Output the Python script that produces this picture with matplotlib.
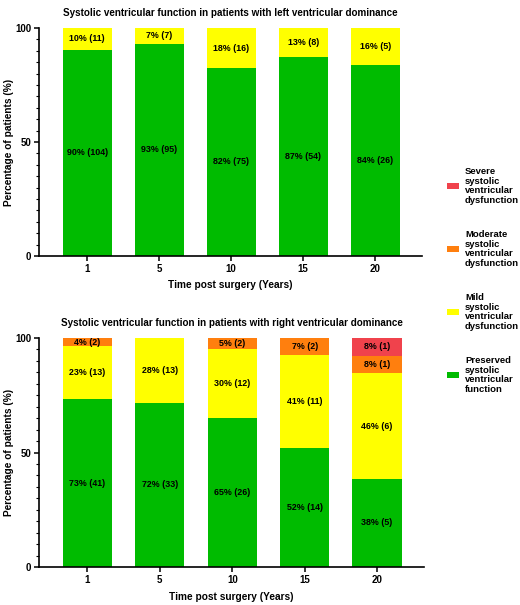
import matplotlib
matplotlib.use("Agg")
import matplotlib.pyplot as plt
from matplotlib.patches import Rectangle
from matplotlib.ticker import MultipleLocator
import numpy as np

plt.rcParams['font.family'] = ['Liberation Sans', 'DejaVu Sans']
plt.rcParams['font.weight'] = 'bold'

years = ["1", "5", "10", "15", "20"]
categories = ["Preserved\nsystolic\nventricular\nfunction",
              "Mild\nsystolic\nventricular\ndysfunction",
              "Moderate\nsystolic\nventricular\ndysfunction",
              "Severe\nsystolic\nventricular\ndysfunction"]
colors = ["#00BB00", "#FFFF00", "#FF7F0E", "#F0424C"]

# Left ventricular dominance: patient counts per category
left_preserved = [104, 95, 75, 54, 26]
left_mild = [11, 7, 16, 8, 5]
left_moderate = [0, 0, 0, 0, 0]
left_severe = [0, 0, 0, 0, 0]

# Right ventricular dominance: patient counts per category
right_preserved = [41, 33, 26, 14, 5]
right_mild = [13, 13, 12, 11, 6]
right_moderate = [2, 0, 2, 2, 1]
right_severe = [0, 0, 0, 0, 1]

titles = ["Systolic ventricular function in patients with left ventricular dominance",
          "Systolic ventricular function in patients with right ventricular dominance"]

W, H = 520, 605
fig = plt.figure(figsize=(5.2, 6.05), dpi=100)
ax1 = fig.add_axes([0.075, 0.577, 0.7365, 0.3767])
ax2 = fig.add_axes([0.075, 0.0628, 0.7405, 0.3785])

def draw(ax, series, title):
    counts = np.array(series, dtype=float)
    totals = counts.sum(axis=0)
    pct = counts / totals * 100
    x = np.arange(len(years))
    bottom = np.zeros(len(years))
    for i in range(len(series)):
        ax.bar(x, pct[i], bottom=bottom, width=0.68, color=colors[i], edgecolor='none')
        for j in range(len(years)):
            if counts[i, j] > 0:
                ax.text(x[j], bottom[j] + pct[i, j] / 2,
                        f"{pct[i, j]:.0f}% ({int(counts[i, j])})",
                        ha='center', va='center', fontsize=6.4, fontweight='bold')
        bottom += pct[i]
    ax.set_ylim(0, 100)
    ax.set_xlim(-0.67, 4.65)
    ax.set_xticks(x)
    ax.set_xticklabels(years)
    ax.set_yticks([0, 50, 100])
    ax.yaxis.set_minor_locator(MultipleLocator(5))
    for s in ['top', 'right']:
        ax.spines[s].set_visible(False)
    for s in ['left', 'bottom']:
        ax.spines[s].set_linewidth(1.2)
    ax.tick_params(axis='both', which='major', labelsize=7, width=1.1, length=3.5, pad=2)
    ax.tick_params(axis='y', which='minor', width=0.8, length=2)
    ax.set_ylabel("Percentage of patients (%)", fontsize=7.3, fontweight='bold', labelpad=1)
    ax.set_xlabel("Time post surgery (Years)", fontsize=7.3, fontweight='bold', labelpad=5)
    ax.set_title(title, fontsize=7.1, fontweight='bold', pad=9)

draw(ax1, [left_preserved, left_mild, left_moderate, left_severe], titles[0])
draw(ax2, [right_preserved, right_mild, right_moderate, right_severe], titles[1])

# Legend (severe at top, preserved at bottom)
legend_y = [186, 249, 312, 375]
for k, i in enumerate([3, 2, 1, 0]):
    yc = legend_y[k]
    fig.add_artist(Rectangle((447 / W, 1 - (yc + 3) / H), 12 / W, 6 / H,
                             transform=fig.transFigure, facecolor=colors[i],
                             edgecolor='none'))
    fig.text(465 / W, 1 - yc / H, categories[i], ha='left', va='center',
             fontsize=6.8, fontweight='bold', linespacing=1.12)

fig.savefig("out.png", dpi=100)
